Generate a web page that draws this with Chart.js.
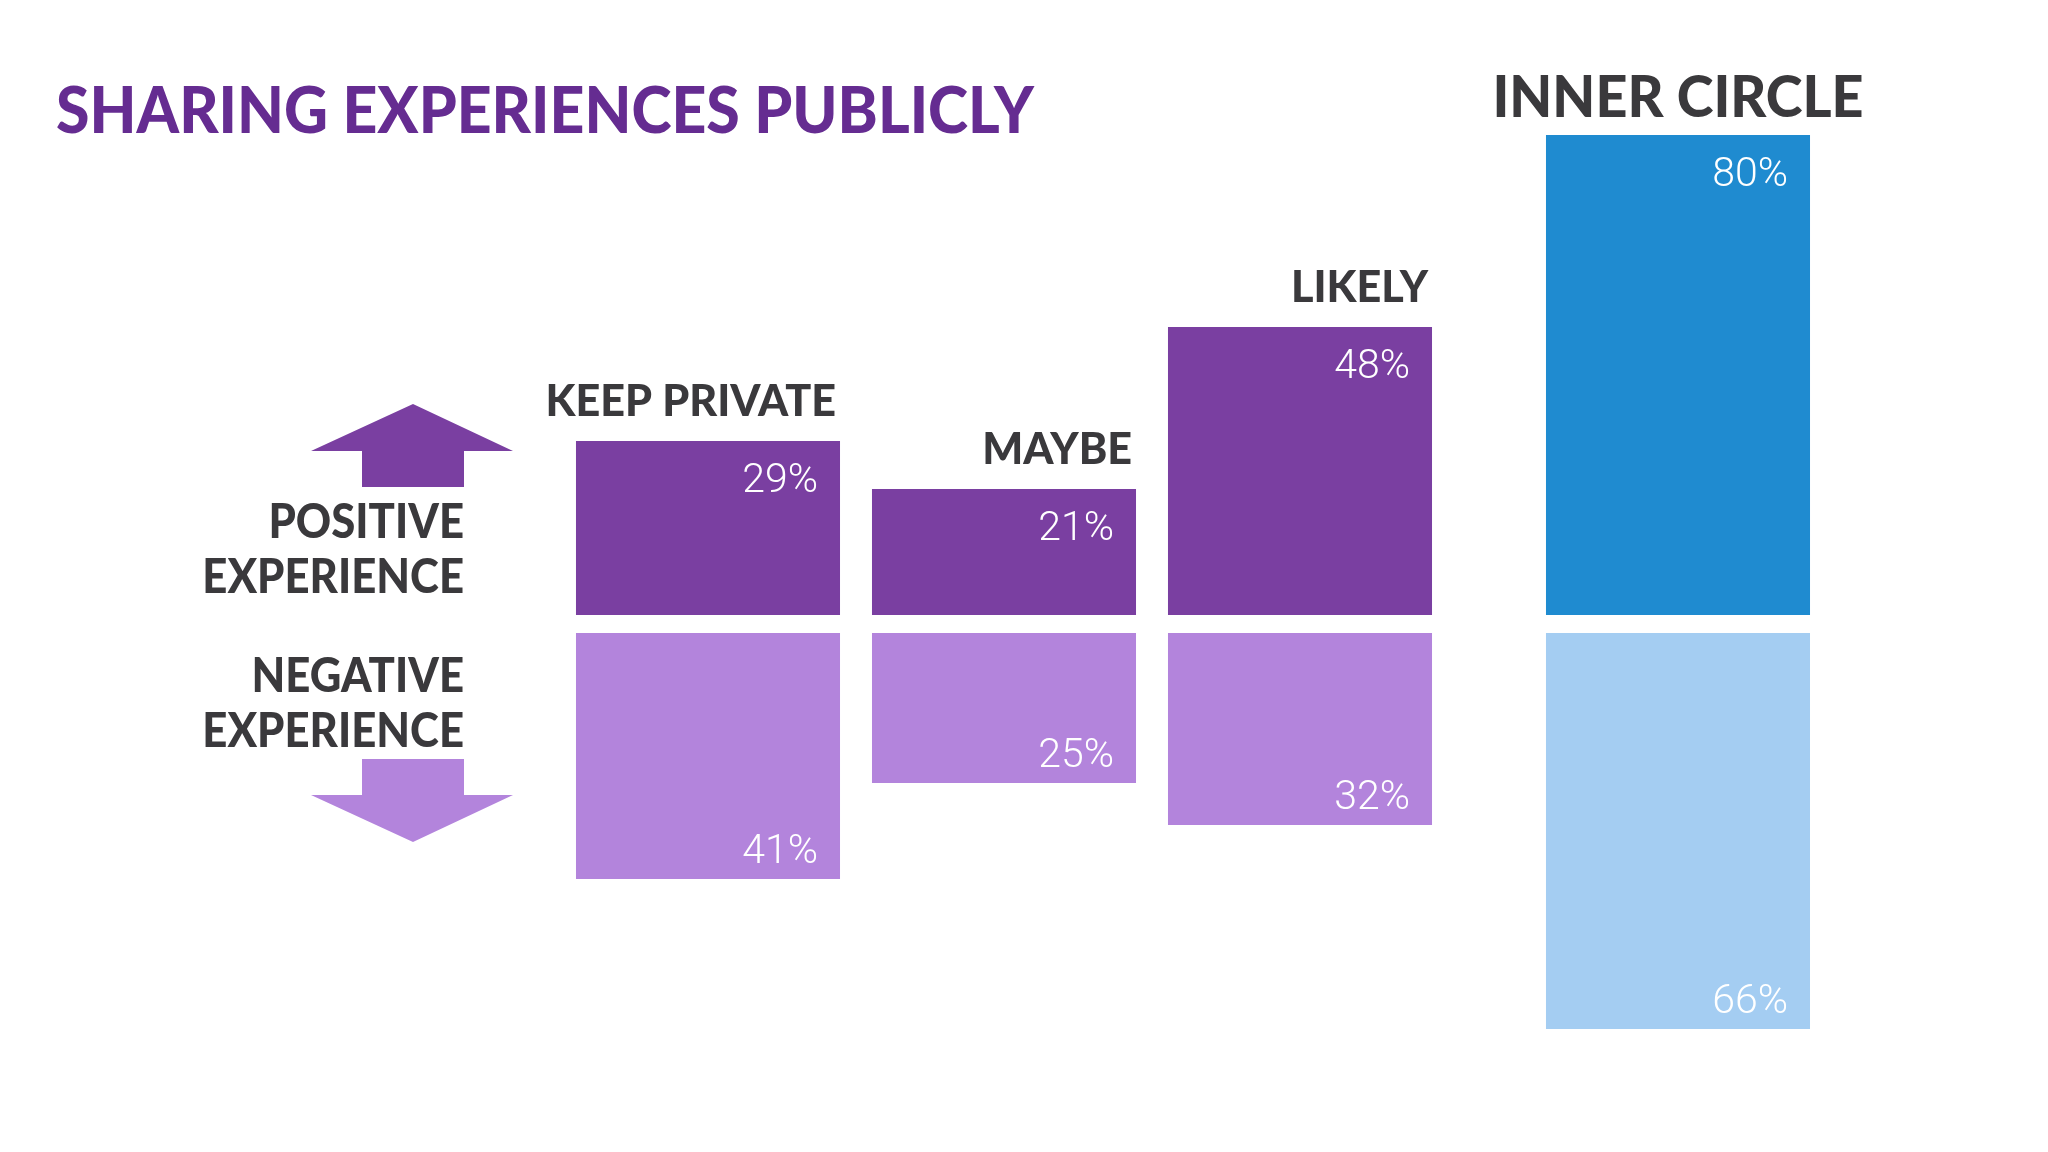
<!DOCTYPE html>
<html>
<head>
<meta charset="utf-8">
<script src="https://cdn.jsdelivr.net/npm/chart.js@4.4.1/dist/chart.umd.min.js"></script>
<style>
  html, body { margin: 0; padding: 0; background: #ffffff; }
  #wrap { position: relative; width: 2048px; height: 1152px; overflow: hidden; }
  canvas { position: absolute; left: 0; top: 0; }
</style>
</head>
<body>
<div id="wrap">
  <canvas id="mainChart" width="2048" height="1152"></canvas>
  <canvas id="innerChart" width="2048" height="1152"></canvas>
</div>
<script>
// categories + values (percent)
const categories = ['KEEP PRIVATE', 'MAYBE', 'LIKELY'];
const positiveValues = [29, 21, 48];
const negativeValues = [41, 25, 32];

const innerCategories = ['INNER CIRCLE'];
const innerPositive = [80];
const innerNegative = [66];

const titleText = 'SHARING EXPERIENCES PUBLICLY';
const sideLabels = [['POSITIVE', 'EXPERIENCE'], ['NEGATIVE', 'EXPERIENCE']];

// colours
const darkPurple = '#7a3fa1';
const lightPurple = '#b384dc';
const blue = '#1f8bd0';
const lightBlue = '#a4cdf2';
const textGrey = '#3a393c';
const titlePurple = '#652c91';

const GAP = 1.5; // half gap between up and down bars, in percent units

function upBars(vals) { return vals.map(v => [GAP, GAP + v]); }
function downBars(vals) { return vals.map(v => [-GAP, -GAP - v]); }

// squeeze text a bit so the wide Lato looks closer to the original face
function squeezedText(ctx, text, x, y, sx, align) {
  ctx.save();
  ctx.translate(x, y);
  ctx.scale(sx, 1);
  ctx.textAlign = align;
  ctx.fillText(text, 0, 0);
  ctx.restore();
}

// draws the % labels inside bars and the category names above them
function barLabelsPlugin(headFont, centerHead, squeeze) {
  return {
    id: 'barLabels',
    afterDatasetsDraw(chart) {
      const ctx = chart.ctx;
      ctx.save();
      chart.data.datasets.forEach((ds, di) => {
        const meta = chart.getDatasetMeta(di);
        meta.data.forEach((bar, i) => {
          const right = bar.x + bar.width / 2;
          const top = Math.min(bar.y, bar.base);
          const bottom = Math.max(bar.y, bar.base);
          ctx.fillStyle = '#ffffff';
          ctx.font = '300 41px Roboto, "Liberation Sans", sans-serif';
          ctx.textAlign = 'right';
          ctx.textBaseline = 'alphabetic';
          if (ds.side === 'up') {
            ctx.fillText(ds.raw[i] + '%', right - 22, top + 51);
            // category title
            ctx.fillStyle = textGrey;
            ctx.font = headFont;
            if (centerHead) {
              squeezedText(ctx, chart.data.labels[i], bar.x, top - 18, squeeze, 'center');
            } else {
              squeezedText(ctx, chart.data.labels[i], right - 4, top - 25, squeeze, 'right');
            }
          } else {
            ctx.fillText(ds.raw[i] + '%', right - 22, bottom - 16);
          }
        });
      });
      ctx.restore();
    }
  };
}

// title, side labels and arrows
const decorPlugin = {
  id: 'decor',
  afterDraw(chart) {
    const ctx = chart.ctx;
    ctx.save();
    ctx.fillStyle = titlePurple;
    ctx.font = '900 64px Lato, sans-serif';
    ctx.textBaseline = 'alphabetic';
    const tw = ctx.measureText(titleText).width;
    squeezedText(ctx, titleText, 56, 133, 978 / tw, 'left');

    ctx.fillStyle = textGrey;
    ctx.font = '900 47px Lato, sans-serif';
    squeezedText(ctx, sideLabels[0][0], 464, 538, 0.93, 'right');
    squeezedText(ctx, sideLabels[0][1], 464, 593, 0.93, 'right');
    squeezedText(ctx, sideLabels[1][0], 464, 692, 0.93, 'right');
    squeezedText(ctx, sideLabels[1][1], 464, 747, 0.93, 'right');

    // up arrow
    ctx.fillStyle = darkPurple;
    ctx.beginPath();
    ctx.moveTo(413, 404);
    ctx.lineTo(513, 451);
    ctx.lineTo(464, 451);
    ctx.lineTo(464, 487);
    ctx.lineTo(362, 487);
    ctx.lineTo(362, 451);
    ctx.lineTo(311, 451);
    ctx.closePath();
    ctx.fill();

    // down arrow
    ctx.fillStyle = lightPurple;
    ctx.beginPath();
    ctx.moveTo(362, 759);
    ctx.lineTo(464, 759);
    ctx.lineTo(464, 795);
    ctx.lineTo(513, 795);
    ctx.lineTo(413, 842);
    ctx.lineTo(311, 795);
    ctx.lineTo(362, 795);
    ctx.closePath();
    ctx.fill();
    ctx.restore();
  }
};

function baseOptions(padLeft, padRight) {
  return {
    responsive: false,
    animation: false,
    devicePixelRatio: 1,
    layout: { padding: { left: padLeft, right: padRight, top: 0, bottom: 0 } },
    plugins: { legend: { display: false }, tooltip: { enabled: false } },
    datasets: { bar: { grouped: false, barPercentage: 0.892, categoryPercentage: 1 } },
    scales: {
      x: { display: false },
      y: { display: false, min: -88, max: 104 }
    }
  };
}

new Chart(document.getElementById('mainChart'), {
  type: 'bar',
  data: {
    labels: categories,
    datasets: [
      { side: 'up', raw: positiveValues, data: upBars(positiveValues), backgroundColor: darkPurple },
      { side: 'down', raw: negativeValues, data: downBars(negativeValues), backgroundColor: lightPurple }
    ]
  },
  options: baseOptions(560, 600),
  plugins: [barLabelsPlugin('900 44px Lato, sans-serif', false, 0.98), decorPlugin]
});

new Chart(document.getElementById('innerChart'), {
  type: 'bar',
  data: {
    labels: innerCategories,
    datasets: [
      { side: 'up', raw: innerPositive, data: upBars(innerPositive), backgroundColor: blue },
      { side: 'down', raw: innerNegative, data: downBars(innerNegative), backgroundColor: lightBlue }
    ]
  },
  options: baseOptions(1530, 222),
  plugins: [barLabelsPlugin('900 58px Lato, sans-serif', true, 0.96)]
});
</script>
</body>
</html>
